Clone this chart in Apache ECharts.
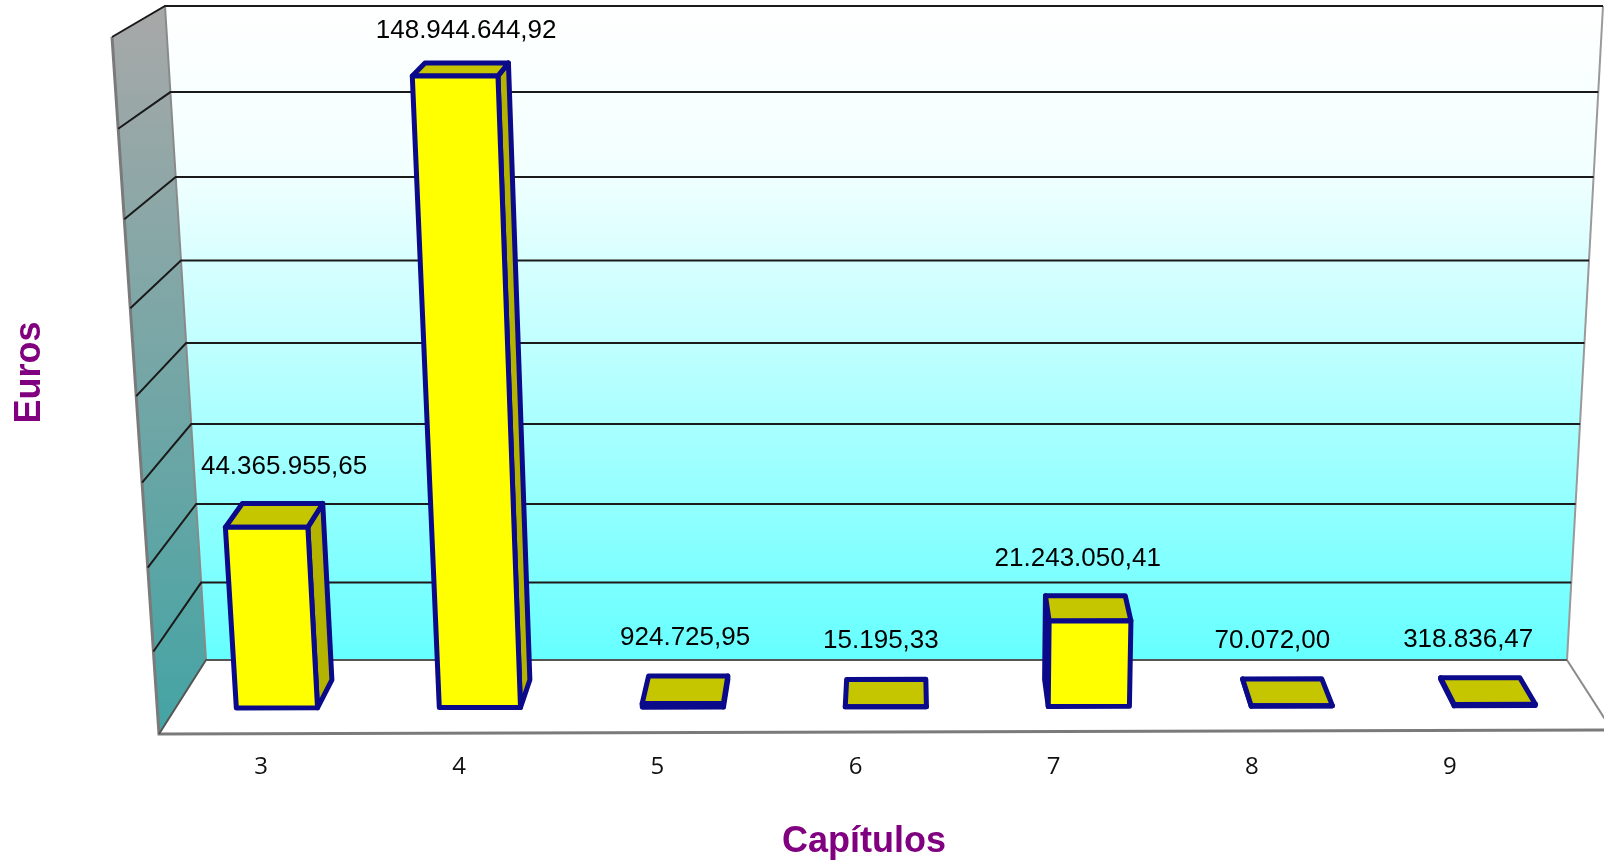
<!DOCTYPE html>
<html>
<head>
<meta charset="utf-8">
<script src="https://cdn.jsdelivr.net/npm/echarts@6/dist/echarts.min.js"></script>
<style>
html,body{margin:0;padding:0;background:#ffffff;}
#chart{width:1604px;height:862px;}
</style>
</head>
<body>
<div id="chart"></div>
<script>
// ---------------- data ----------------
const categories = ['3', '4', '5', '6', '7', '8', '9'];
const values = [44365955.65, 148944644.92, 924725.95, 15195.33, 21243050.41, 70072.00, 318836.47];
const yTicks = [0, 20000000, 40000000, 60000000, 80000000, 100000000, 120000000, 140000000, 160000000];
const yMax = 160000000;
const yStep = 20000000;
const xTitle = 'Capítulos';
const yTitle = 'Euros';

// ---------------- helpers ----------------
function fmtEs(v) {
  const parts = v.toFixed(2).split('.');
  const intPart = parts[0].replace(/\B(?=(\d{3})+(?!\d))/g, '.');
  return intPart + ',' + parts[1];
}

// vertical perspective warp of the value fraction
const WARP_A = 0.939, WARP_B = 0.061;
// perspective box built around the back-wall rectangle (grid rect)
function makeProj(r) {
  const xL = r.x, xR = r.x + r.width, yT = r.y, yB = r.y + r.height;
  const B00 = [xL, yB], B10 = [xR, yB], B01 = [xL - 41, yT], B11 = [xR + 36, yT];
  const F00 = [xL - 47, yB + 74], F10 = [xR + 45, yB + 70], F01 = [xL - 94, yT + 31], F11 = [xR + 87, yT + 31];
  const lerp = (a, b, t) => [a[0] + (b[0] - a[0]) * t, a[1] + (b[1] - a[1]) * t];
  return function (X, Yl, Z) {
    const Y = WARP_A * Yl + WARP_B * Yl * Yl;
    const bot = lerp(lerp(B00, B10, X), lerp(F00, F10, X), Z);
    const top = lerp(lerp(B01, B11, X), lerp(F01, F11, X), Z);
    return lerp(bot, top, Y);
  };
}

const chart = echarts.init(document.getElementById('chart'), null, {renderer: 'canvas'});

const FONT = '"Liberation Sans", Arial, sans-serif';
const Z_BACK = 0.27, Z_FRONT = 0.65, BAR_FRAC = 0.4;

function renderWalls(params, api) {
  const r = params.coordSys;
  const proj = makeProj(r);
  const ch = [];
  const G = echarts.graphic;
  ch.push({type: 'polygon', shape: {points: [proj(0,0,0), proj(1,0,0), proj(1,1,0), proj(0,1,0)]},
    style: {fill: new G.LinearGradient(0, 0, 0, 1, [{offset: 0, color: '#ffffff'}, {offset: 0.25, color: '#f2ffff'}, {offset: 1, color: '#66ffff'}])}});
  ch.push({type: 'polygon', shape: {points: [proj(0,0,0), proj(0,1,0), proj(0,1,1), proj(0,0,1)]},
    style: {fill: new G.LinearGradient(0, 0, 0, 1, [{offset: 0, color: '#a8a8a8'}, {offset: 1, color: '#44a4a4'}])}});
  ch.push({type: 'polygon', shape: {points: [proj(0,0,0), proj(1,0,0), proj(1,0,1), proj(0,0,1)]},
    style: {fill: '#ffffff'}});
  // edges
  ch.push({type: 'polyline', shape: {points: [proj(0,1,1), proj(0,0,1), proj(1,0,1)]},
    style: {stroke: '#7a7a7a', lineWidth: 3, fill: null}});
  ch.push({type: 'polyline', shape: {points: [proj(1,0,0), proj(1,0,1)]},
    style: {stroke: '#8a8a8a', lineWidth: 2, fill: null}});
  ch.push({type: 'polyline', shape: {points: [proj(1,1,0), proj(1,0,0)]},
    style: {stroke: '#9a9a9a', lineWidth: 2, fill: null}});
  ch.push({type: 'polyline', shape: {points: [proj(0,1,0), proj(0,0,0)]},
    style: {stroke: '#8a8a8a', lineWidth: 2, fill: null}});
  yTicks.forEach(function (t) {
    const py = api.coord([0, t])[1];
    const Yl = (r.y + r.height - py) / r.height;
    ch.push({type: 'polyline', shape: {points: [proj(0, Yl, 1), proj(0, Yl, 0), proj(1, Yl, 0)]},
      style: {stroke: t === 0 ? '#555555' : '#1a1a1a', lineWidth: 2, fill: null}});
  });
  return {type: 'group', children: ch};
}

function renderBar(params, api) {
  const r = params.coordSys;
  const proj = makeProj(r);
  const i = api.value(0), v = api.value(1);
  const top = api.coord([i, v]);
  const base = api.coord([i, 0]);
  const band = api.size([1, 0])[0];
  const Xc = (top[0] - r.x) / r.width;
  const half = BAR_FRAC * band / 2 / r.width;
  const Xl = Xc - half, Xr = Xc + half;
  const Y0 = (r.y + r.height - base[1]) / r.height;
  const Yt = (r.y + r.height - top[1]) / r.height;
  const fbl = proj(Xl, Y0, Z_FRONT), fbr = proj(Xr, Y0, Z_FRONT), ftl = proj(Xl, Yt, Z_FRONT), ftr = proj(Xr, Yt, Z_FRONT);
  const bbl = proj(Xl, Y0, Z_BACK), bbr = proj(Xr, Y0, Z_BACK), btl = proj(Xl, Yt, Z_BACK), btr = proj(Xr, Yt, Z_BACK);
  const stroke = '#0a0a8a', lw = 5;
  const ch = [];
  if (bbr[0] > fbr[0]) {
    ch.push({type: 'polygon', shape: {points: [fbr, ftr, btr, bbr]}, style: {fill: '#b4b400', stroke: stroke, lineWidth: lw, lineJoin: 'round'}});
  }
  if (bbl[0] < fbl[0]) {
    ch.push({type: 'polygon', shape: {points: [fbl, ftl, btl, bbl]}, style: {fill: '#b4b400', stroke: stroke, lineWidth: lw, lineJoin: 'round'}});
  }
  ch.push({type: 'polygon', shape: {points: [ftl, ftr, btr, btl]}, style: {fill: '#c6c600', stroke: stroke, lineWidth: lw, lineJoin: 'round'}});
  ch.push({type: 'polygon', shape: {points: [fbl, fbr, ftr, ftl]}, style: {fill: '#ffff00', stroke: stroke, lineWidth: lw, lineJoin: 'round'}});
  const lp = proj(Xc - 0.004, Yt, 0.1);
  ch.push({type: 'text', style: {text: fmtEs(v), x: lp[0], y: lp[1] - 26, align: 'center', verticalAlign: 'middle',
    fontSize: 26, fontFamily: FONT, fill: '#000000'}});
  return {type: 'group', children: ch};
}

const option = {
  animation: false,
  backgroundColor: '#ffffff',
  grid: [
    {left: 206, right: 37, top: 6, bottom: 202, containLabel: false, outerBoundsMode: 'none'},
    {left: 162, right: 55, top: 0, bottom: 117, containLabel: false, outerBoundsMode: 'none'}
  ],
  xAxis: [
    {type: 'category', gridIndex: 0, data: categories, boundaryGap: true,
      axisLine: {show: false}, axisTick: {show: false}, axisLabel: {show: false}, splitLine: {show: false}},
    {type: 'category', gridIndex: 1, data: categories, boundaryGap: true,
      axisLine: {show: false}, axisTick: {show: false}, splitLine: {show: false},
      axisLabel: {show: true, margin: 10, fontSize: 24, color: '#111111', fontFamily: '"Open Sans", "Liberation Sans", sans-serif'},
      name: xTitle, nameLocation: 'middle', nameGap: 79,
      nameTextStyle: {fontSize: 36, fontWeight: 'bold', color: '#800080', fontFamily: FONT, padding: [0, 0, 0, 17]}}
  ],
  yAxis: [
    {type: 'value', gridIndex: 0, min: 0, max: yMax, interval: yStep,
      axisLine: {show: false}, axisTick: {show: false}, axisLabel: {show: false}, splitLine: {show: false}},
    {type: 'value', gridIndex: 1, min: 0, max: 1,
      axisLine: {show: false}, axisTick: {show: false}, axisLabel: {show: false}, splitLine: {show: false},
      name: yTitle, nameLocation: 'middle', nameGap: 114, nameRotate: 90,
      nameTextStyle: {fontSize: 36, fontWeight: 'bold', color: '#800080', fontFamily: FONT}}
  ],
  series: [
    {type: 'custom', xAxisIndex: 0, yAxisIndex: 0, clip: false, silent: true, z: 1,
      data: [[0, 0]], encode: {x: 0, y: 1}, renderItem: renderWalls},
    {type: 'custom', xAxisIndex: 0, yAxisIndex: 0, clip: false, z: 2,
      data: values.map(function (v, i) { return [i, v]; }), encode: {x: 0, y: 1}, renderItem: renderBar}
  ]
};
chart.setOption(option);
</script>
</body>
</html>
